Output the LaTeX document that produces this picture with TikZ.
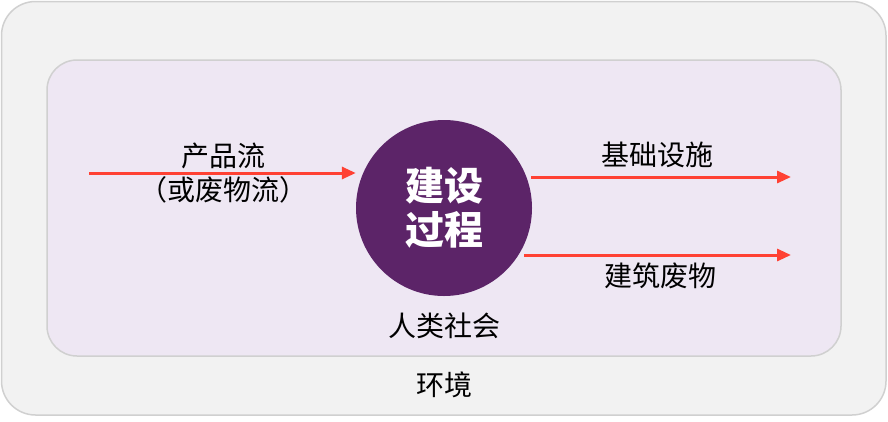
\documentclass[tikz,border=0pt]{standalone}
\usepackage{fontspec}
\setmainfont{Noto Sans CJK SC}
\usetikzlibrary{arrows.meta}
\definecolor{outerfill}{HTML}{F2F2F2}
\definecolor{boxline}{HTML}{D0D0D0}
\definecolor{innerfill}{HTML}{EEE7F3}
\definecolor{procfill}{HTML}{5C2468}
\definecolor{flowred}{HTML}{FF4133}
\tikzset{
  flow/.style={draw=flowred, line width=3pt, -{Triangle[length=14pt,width=12pt]}},
  lbl/.style={font=\fontsize{28}{32}\selectfont, text=black, inner sep=0pt, align=center},
}
\begin{document}
\begin{tikzpicture}[x=1pt,y=-1pt]
\useasboundingbox (0,0) rectangle (888,421);
\draw[fill=outerfill, draw=boxline, line width=1.5pt, rounded corners=34pt] (1.5,1.5) rectangle (886,415);
\draw[fill=innerfill, draw=boxline, line width=1.5pt, rounded corners=30pt] (47,60) rectangle (841,356);
\node[circle, fill=procfill, minimum size=176pt, inner sep=0pt, text=white, align=center,
      font=\fontsize{39}{44}\selectfont\bfseries] (proc) at (444,208) {建设\\过程};
\coordinate (inL) at (89,173);
\coordinate (out1) at (791,177);
\coordinate (out2) at (791,255);
\draw[flow] (inL) -- (proc.west |- inL);
\draw[flow] (proc.east |- out1) ++(-1,0) coordinate (s1) -- (out1);
\draw[flow] (524,255) coordinate (s2) -- (out2);
\node[lbl] (l1) at (223,156) {产品流};
\node[lbl] (l2) at (223,190) {（或废物流）};
\node[lbl] (l3) at (657,155) {基础设施};
\node[lbl] (l4) at (660,276) {建筑废物};
\node[lbl] (l5) at (444,326) {人类社会};
\node[lbl] (l6) at (444,385) {环境};
\end{tikzpicture}
\end{document}
